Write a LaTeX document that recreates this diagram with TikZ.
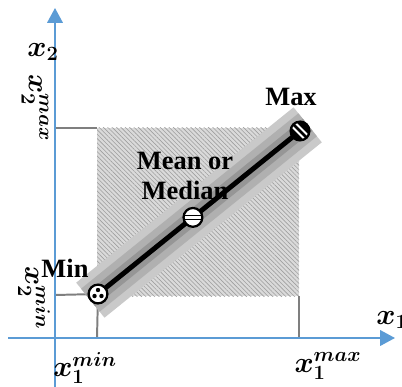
\documentclass[tikz,border=0pt]{standalone}
\usepackage{amsmath}
\usepackage{fontspec}
\setmainfont{Liberation Serif}
\usetikzlibrary{arrows.meta, positioning, calc, patterns.meta}
\definecolor{axblue}{HTML}{5B9BD5}
\definecolor{guidegrey}{HTML}{7F7F7F}
\definecolor{boxgrey}{HTML}{DADADA}

\begin{document}
\begin{tikzpicture}[x=0.025cm, y=-0.025cm,
      lbl/.style={font=\fontsize{18.8}{21.3}\selectfont\bfseries, inner sep=0pt, align=center},
      axlbl/.style={font=\fontsize{21}{24}\selectfont, inner sep=0pt},
      axis/.style={draw=axblue, line width=1.3pt, -{Triangle[length=10.5pt, width=11pt, fill=axblue]}},
      guide/.style={draw=guidegrey, line width=1.4pt},
      marker/.style={circle, draw=black, line width=1.6pt, fill=white, minimum size=0.47cm, inner sep=0pt},
      minmark/.style={marker, path picture={
          \foreach \a in {90,210,330}
            \fill[black] (path picture bounding box.center) ++(\a:0.1cm) circle (0.055cm);}},
      meanmark/.style={marker, path picture={
          \foreach \d in {-0.05cm,0.05cm}
            \draw[black, line width=1.2pt] (path picture bounding box.center) ++(-0.2cm,\d) -- ++(0.4cm,0);}},
      maxmark/.style={marker, fill=black, path picture={
          \foreach \d in {-0.045cm,0.045cm}
            \draw[white, line width=1.4pt] (path picture bounding box.center) ++(\d,\d) ++(-0.2cm,0.2cm) -- ++(0.4cm,-0.4cm);}}]
      \useasboundingbox (0,0) rectangle (402,387);

      % hatched range box
      \fill[boxgrey] (97,128) rectangle (299,296);
      \fill[pattern={Lines[angle=-45, distance=2.2pt, line width=0.45pt]}, pattern color=gray!75] (97,128) rectangle (299,296);

      \coordinate (o) at (55,338);
      \coordinate (ytail) at (55,387);
      \coordinate (ytip) at (55,8);
      \coordinate (xtail) at (8,338);
      \coordinate (xtip) at (395,338);
      \coordinate (y2max) at (55,128);
      \coordinate (boxtl) at (97,128);
      \coordinate (y2min) at (55,295);
      \coordinate (x1min) at (97,338);
      \coordinate (boxbr) at (299,296);
      \coordinate (x1max) at (299,338);
      \coordinate (pmin) at (98,294);
      \coordinate (pmax) at (300,131);
      \coordinate (pmean) at ($(pmin)!0.47!(pmax)$);

      % guides to the axes
      \draw[guide] (y2max) -- (boxtl);
      \draw[guide] (boxbr) -- (x1max);
      \draw[guide] (y2min) -- (pmin);
      \draw[guide] (pmin) -- (x1min);

      % shaded band min -> max
      \foreach \w/\c in {32pt/gray!42, 21pt/gray!62, 11pt/gray!82, 3.5pt/black}
        \draw[line width=\w, \c, shorten <=-7pt, shorten >=-7pt] (pmin) -- (pmax);

      % axes
      \draw[axis] (ytail) -- (ytip);
      \draw[axis] (xtail) -- (xtip);

      \node[minmark] (mn) at (pmin) {};
      \node[meanmark] (mean) at (pmean) {};
      \node[maxmark] (mx) at (pmax) {};

      \node[lbl] (maxlbl) at (291,97) {Max};
      \node[lbl] (minlbl) at (65,268) {Min};
      \node[lbl] (meanlbl) at (185,176) {Mean or\\Median};

      \node[axlbl] (x2lbl) at (43,52) {$\boldsymbol{x}_{\boldsymbol{2}}$};
      % rotated labels on the x2 axis
      \begin{scope}[shift={(35,108)}, rotate=-90]
        \node[axlbl, transform shape] (x2maxlbl) at (0,0) {$\boldsymbol{x}_{\boldsymbol{2}}^{\boldsymbol{max}}$};
      \end{scope}
      \begin{scope}[shift={(34,298)}, rotate=-90]
        \node[axlbl, transform shape] (x2minlbl) at (0,0) {$\boldsymbol{x}_{\boldsymbol{2}}^{\boldsymbol{min}}$};
      \end{scope}
      \node[axlbl] (x1minlbl) at (85,368) {$\boldsymbol{x}_{\boldsymbol{1}}^{\boldsymbol{min}}$};
      \node[axlbl] (x1maxlbl) at (328,366) {$\boldsymbol{x}_{\boldsymbol{1}}^{\boldsymbol{max}}$};
      \node[axlbl] (x1lbl) at (392,320) {$\boldsymbol{x}_{\boldsymbol{1}}$};
    \end{tikzpicture}
\end{document}
